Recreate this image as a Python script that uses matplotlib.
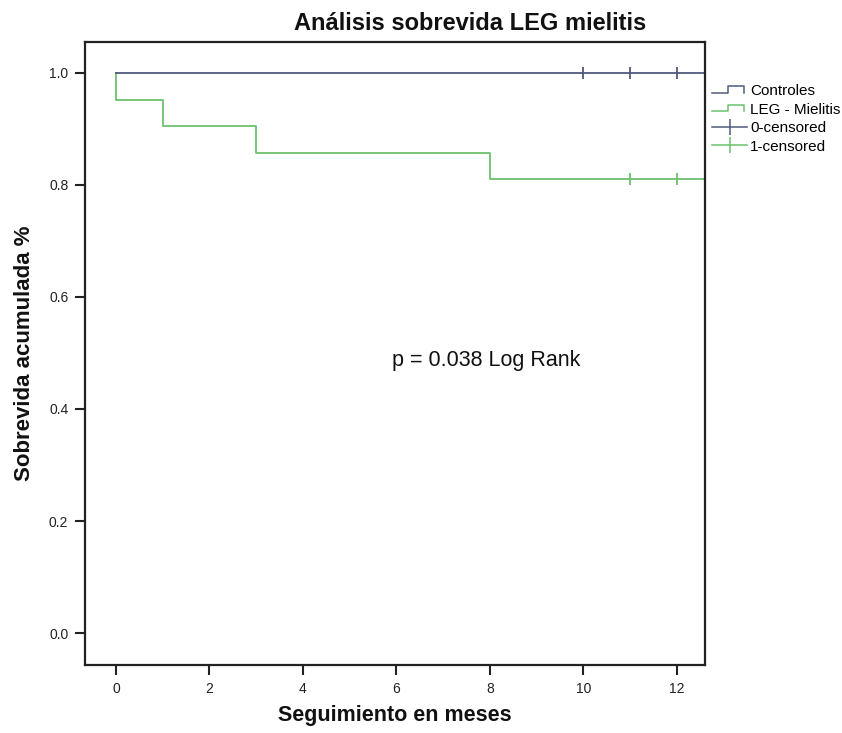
import matplotlib
matplotlib.use("Agg")
import matplotlib.pyplot as plt
from matplotlib.lines import Line2D
from matplotlib.legend_handler import HandlerBase

plt.rcParams['font.family'] = ['Liberation Sans', 'DejaVu Sans']

# Data
ctrl_times = [0, 12.6]
ctrl_surv = [1.0, 1.0]
ctrl_cens_t = [10, 11, 12]
ctrl_cens_s = [1.0, 1.0, 1.0]

leg_times = [0, 0, 1, 3, 8, 12.6]
leg_surv = [1.0, 0.952, 0.905, 0.857, 0.810, 0.810]
leg_cens_t = [11, 12]
leg_cens_s = [0.810, 0.810]

x_ticks = [0, 2, 4, 6, 8, 10, 12]
y_ticks = [0.0, 0.2, 0.4, 0.6, 0.8, 1.0]
labels = ["Controles", "LEG - Mielitis", "0-censored", "1-censored"]

c_ctrl = '#4f5b7c'
c_leg = '#6cc06c'

W, H = 842, 733
fig = plt.figure(figsize=(W / 100, H / 100), dpi=100)
ax = fig.add_axes([85 / W, 1 - 665 / H, 620 / W, 623 / H])

ax.step(leg_times, leg_surv, where='post', color=c_leg, lw=1.3)
ax.step(ctrl_times, ctrl_surv, where='post', color=c_ctrl, lw=1.3)
ax.plot(ctrl_cens_t, ctrl_cens_s, ls='none', marker='|', ms=9, mew=1.3, color=c_ctrl)
ax.plot(leg_cens_t, leg_cens_s, ls='none', marker='|', ms=9, mew=1.3, color=c_leg)

ax.set_xlim(-0.663, 12.6)
ax.set_ylim(-0.057, 1.055)
ax.set_xticks(x_ticks)
ax.set_xticklabels([str(v) for v in x_ticks])
ax.set_yticks(y_ticks)
ax.set_yticklabels([f"{v:.1f}" for v in y_ticks])
ax.tick_params(direction='out', length=7, width=1.5, labelsize=10, colors='#222222', pad=5)
for s in ax.spines.values():
    s.set_linewidth(1.6)
    s.set_color('#222222')

fig.text(470 / W, 1 - 24 / H, "Análisis sobrevida LEG mielitis", fontsize=17, fontweight='bold',
         ha='center', va='center', color='#111111')
ax.set_xlabel("Seguimiento en meses", fontsize=15.5, fontweight='bold', labelpad=7, color='#111111')
ax.set_ylabel("Sobrevida acumulada %", fontsize=16, fontweight='bold', labelpad=10, color='#111111')

ax.text(5.9, 0.487, "p = 0.038 Log Rank", fontsize=15.5, va='center', ha='left', color='#111111')


class StepHandler(HandlerBase):
    def create_artists(self, legend, orig_handle, xdescent, ydescent, width, height, fontsize, trans):
        x0 = -xdescent
        y0 = -ydescent + height * 0.2
        y1 = -ydescent + height * 0.8
        xs = [x0, x0 + width * 0.45, x0 + width * 0.45, x0 + width * 0.9, x0 + width * 0.9]
        ys = [y0, y0, y1, y1, y0]
        l = Line2D(xs, ys, color=orig_handle.get_color(), lw=1.1, transform=trans)
        return [l]


class CensHandler(HandlerBase):
    def create_artists(self, legend, orig_handle, xdescent, ydescent, width, height, fontsize, trans):
        x0 = -xdescent
        ym = -ydescent + height / 2
        l = Line2D([x0, x0 + width], [ym, ym], color=orig_handle.get_color(), lw=1.1, transform=trans)
        m = Line2D([x0 + width / 2], [ym], marker='|', ms=11, mew=1.1, color=orig_handle.get_color(),
                   ls='none', transform=trans)
        return [l, m]


h1 = Line2D([], [], color=c_ctrl)
h2 = Line2D([], [], color=c_leg)
h3 = Line2D([], [], color=c_ctrl)
h4 = Line2D([], [], color=c_leg)
fig.legend([h1, h2, h3, h4], labels,
           handler_map={h1: StepHandler(), h2: StepHandler(), h3: CensHandler(), h4: CensHandler()},
           loc='upper left', bbox_to_anchor=(712 / W, 1 - 84 / H), frameon=False,
           fontsize=11, handlelength=2.3, handletextpad=0.2, labelspacing=0.3, borderaxespad=0, borderpad=0)

fig.savefig("out.png", dpi=100, facecolor='white')
